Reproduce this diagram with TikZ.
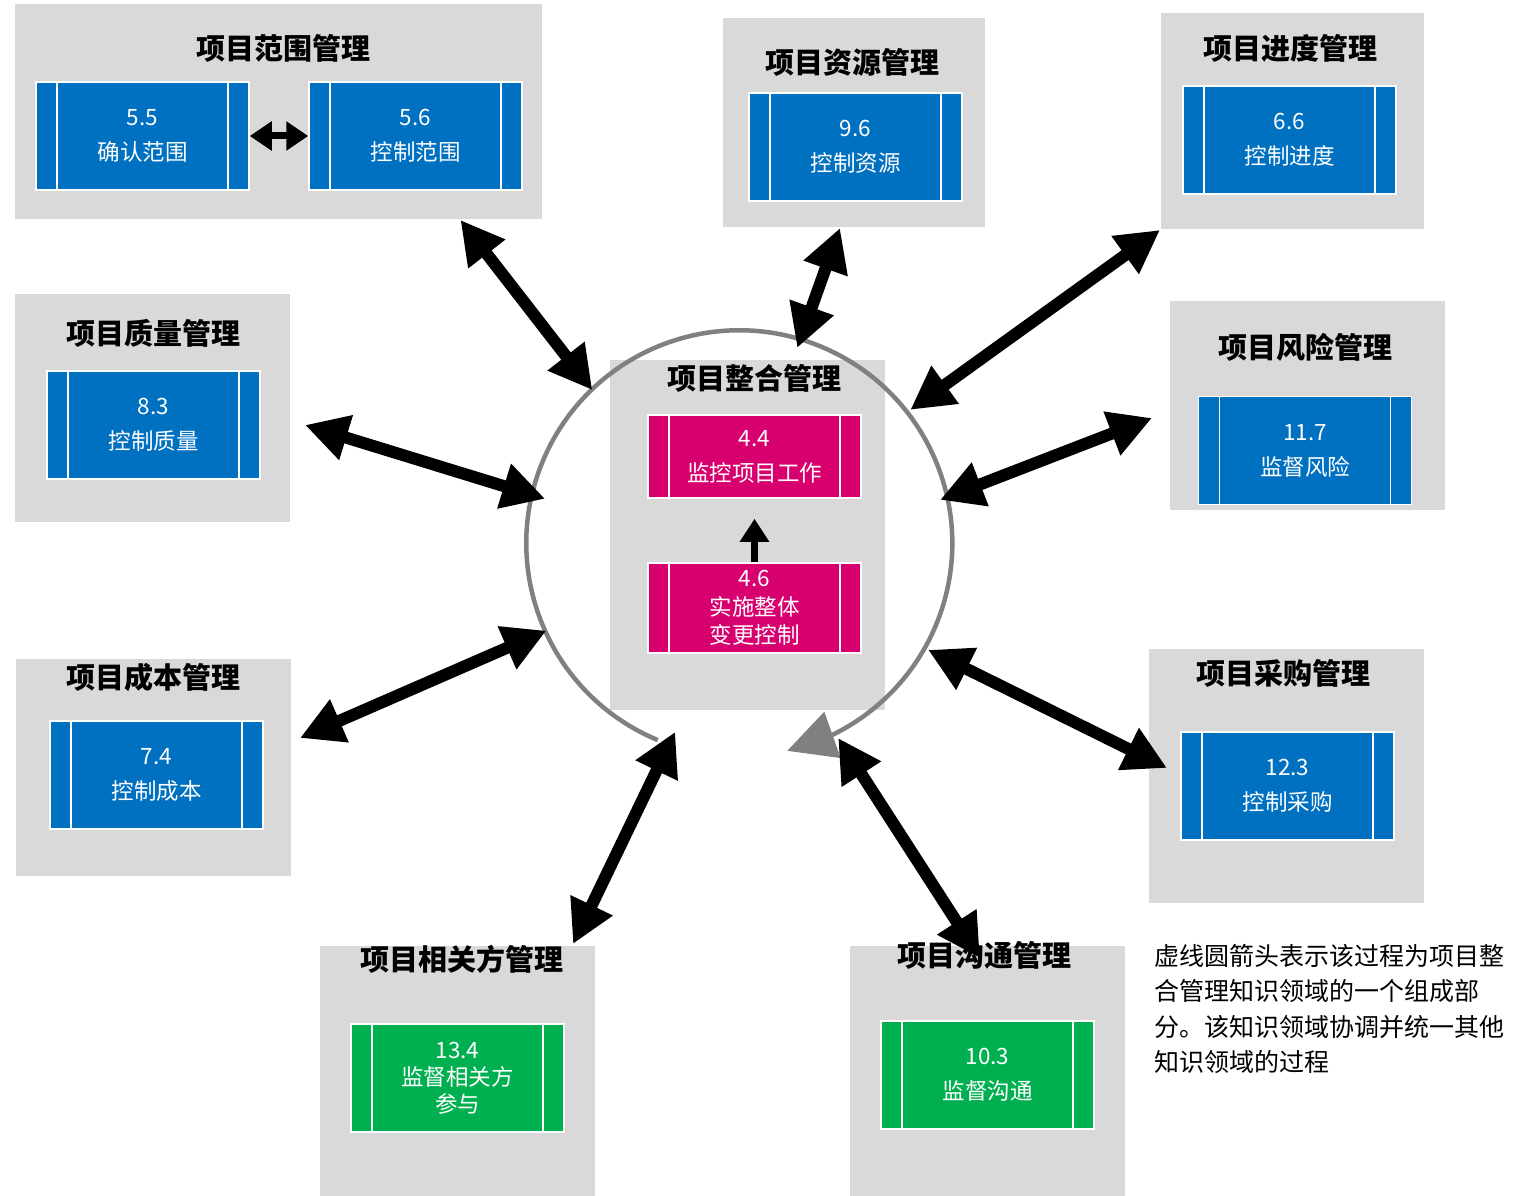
\documentclass[tikz,border=0pt]{standalone}
\usepackage{fontspec}
\setmainfont{Noto Sans CJK SC}
\usetikzlibrary{arrows.meta, bending, positioning}
\definecolor{panelgray}{HTML}{D9D9D9}
\definecolor{ringgray}{HTML}{808080}
\definecolor{pmblue}{HTML}{0070C0}
\definecolor{pmpink}{HTML}{D7006E}
\definecolor{pmgreen}{HTML}{00B050}
\tikzstyle{panel} = [rectangle, fill=panelgray, draw=none, inner sep=0pt, outer sep=0pt]
\tikzstyle{title} = [font=\fontsize{29}{34}\selectfont\bfseries, text=black]
\tikzstyle{proc} = [rectangle, minimum width=213pt, minimum height=108pt, draw=white, line width=1.5pt, fill=pmblue, text=white, align=center, font=\fontsize{22.5}{35}\selectfont,
  path picture={\draw[white, line width=1.5pt]
    ([xshift=21pt]path picture bounding box.north west) -- ([xshift=21pt]path picture bounding box.south west)
    ([xshift=-21pt]path picture bounding box.north east) -- ([xshift=-21pt]path picture bounding box.south east);}]
\tikzstyle{bigarrow} = [line width=12pt, black, {Triangle[length=43pt,width=44pt]}-{Triangle[length=43pt,width=44pt]}]
\tikzstyle{smallarrow} = [line width=7pt, black]
\tikzstyle{ringline} = [line width=4.5pt, ringgray, -{Triangle[length=48pt,width=48pt,flex]}]
\tikzstyle{note} = [font=\fontsize{25}{35.5}\selectfont, align=left, anchor=north west, inner sep=0pt]

\begin{document}
\begin{tikzpicture}[x=1pt, y=1pt]
    \useasboundingbox (0,0) rectangle (1515,-1196);

    \node (scope)    [panel, minimum width=527pt, minimum height=215pt] at (278.5,-111.5) {};
    \node (resource) [panel, minimum width=262pt, minimum height=209pt] at (854,-122.5)   {};
    \node (schedule) [panel, minimum width=263pt, minimum height=216pt] at (1292.5,-121)  {};
    \node (quality)  [panel, minimum width=275pt, minimum height=228pt] at (152.5,-408)   {};
    \node (risk)     [panel, minimum width=275pt, minimum height=209pt] at (1307.5,-405.5) {};
    \node (cost)     [panel, minimum width=275pt, minimum height=217pt] at (153.5,-767.5) {};
    \node (procure)  [panel, minimum width=275pt, minimum height=254pt] at (1286.5,-776)  {};
    \node (stake)    [panel, minimum width=275pt, minimum height=250pt] at (457.5,-1071)  {};
    \node (comm)     [panel, minimum width=275pt, minimum height=250pt] at (987.5,-1071)  {};
    \node (integ)    [panel, minimum width=275pt, minimum height=350pt] at (747.5,-535)   {};

    \node (t-scope)    [title] at (283,-48)   {项目范围管理};
    \node (t-resource) [title] at (852,-62)   {项目资源管理};
    \node (t-schedule) [title] at (1290,-48)  {项目进度管理};
    \node (t-quality)  [title] at (153,-333)  {项目质量管理};
    \node (t-risk)     [title] at (1305,-347) {项目风险管理};
    \node (t-cost)     [title] at (153,-677)  {项目成本管理};
    \node (t-procure)  [title] at (1283,-673) {项目采购管理};
    \node (t-stake)    [title] at (462,-959)  {项目相关方管理};
    \node (t-comm)     [title] at (984,-955)  {项目沟通管理};
    \node (t-integ)    [title] at (754,-378)  {项目整合管理};

    \node (b55)  [proc] at (142.5,-136)  {5.5\\确认范围};
    \node (b56)  [proc] at (415.5,-136)  {5.6\\控制范围};
    \node (b96)  [proc] at (855.5,-147)  {9.6\\控制资源};
    \node (b66)  [proc] at (1289.5,-140) {6.6\\控制进度};
    \node (b83)  [proc] at (153.5,-425)  {8.3\\控制质量};
    \node (b117) [proc] at (1305,-450.5) {11.7\\监督风险};
    \node (b74)  [proc] at (156.5,-775)  {7.4\\控制成本};
    \node (b123) [proc] at (1287.5,-786) {12.3\\控制采购};
    \node (b134) [proc, fill=pmgreen, font=\fontsize{22.5}{27}\selectfont] at (457.5,-1078) {13.4\\监督相关方\\参与};
    \node (b103) [proc, fill=pmgreen] at (987.5,-1075) {10.3\\监督沟通};
    \node (b44)  [proc, fill=pmpink, minimum height=83pt] at (754.5,-456.5) {4.4\\监控项目工作};
    \node (b46)  [proc, fill=pmpink, minimum height=90pt, font=\fontsize{22.5}{28.5}\selectfont] at (754.5,-608) {4.6\\实施整体\\变更控制};

    \draw [smallarrow, {Triangle[length=22pt,width=28pt]}-{Triangle[length=22pt,width=28pt]}] (b55.east) -- (b56.west);
    \draw [smallarrow, -{Triangle[length=23pt,width=28pt]}] (b46.north) -- ([yshift=-20pt]b44.south);

    \node (ring) [circle, minimum size=426pt, inner sep=0pt, outer sep=0pt] at (741,-544) {};
    \draw [ringline] (ring.247.5) arc [start angle=247.5, end angle=-77, radius=213];

    \draw [bigarrow] ([shift={(182,-1)}]scope.south)   -- ([shift={(134:214)}]ring.center);
    \draw [bigarrow] ([shift={(-14,-1)}]resource.south) -- ([shift={(74:204)}]ring.center);
    \draw [bigarrow] ([shift={(-1,-1)}]schedule.south west) -- ([shift={(38.4:216)}]ring.center);
    \draw [bigarrow] ([shift={(15,-17)}]quality.east)  -- ([shift={(167:201)}]ring.center);
    \draw [bigarrow] ([shift={(-18,-12.5)}]risk.west)  -- ([shift={(12.5:204)}]ring.center);
    \draw [bigarrow] ([shift={(9,29.5)}]cost.east)     -- ([shift={(204:213)}]ring.center);
    \draw [bigarrow] ([shift={(18,8)}]procure.west)    -- ([shift={(330.5:215)}]ring.center);
    \draw [bigarrow] ([shift={(115.5,2)}]stake.north)  -- ([shift={(250.7:199)}]ring.center);
    \draw [bigarrow] ([shift={(-7.5,-12)}]comm.north)  -- ([shift={(296.6:217)}]ring.center);

    \node (legend) [note] at (1154,-944) {虚线圆箭头表示该过程为项目整\\合管理知识领域的一个组成部\\分。该知识领域协调并统一其他\\知识领域的过程};
\end{tikzpicture}
\end{document}
